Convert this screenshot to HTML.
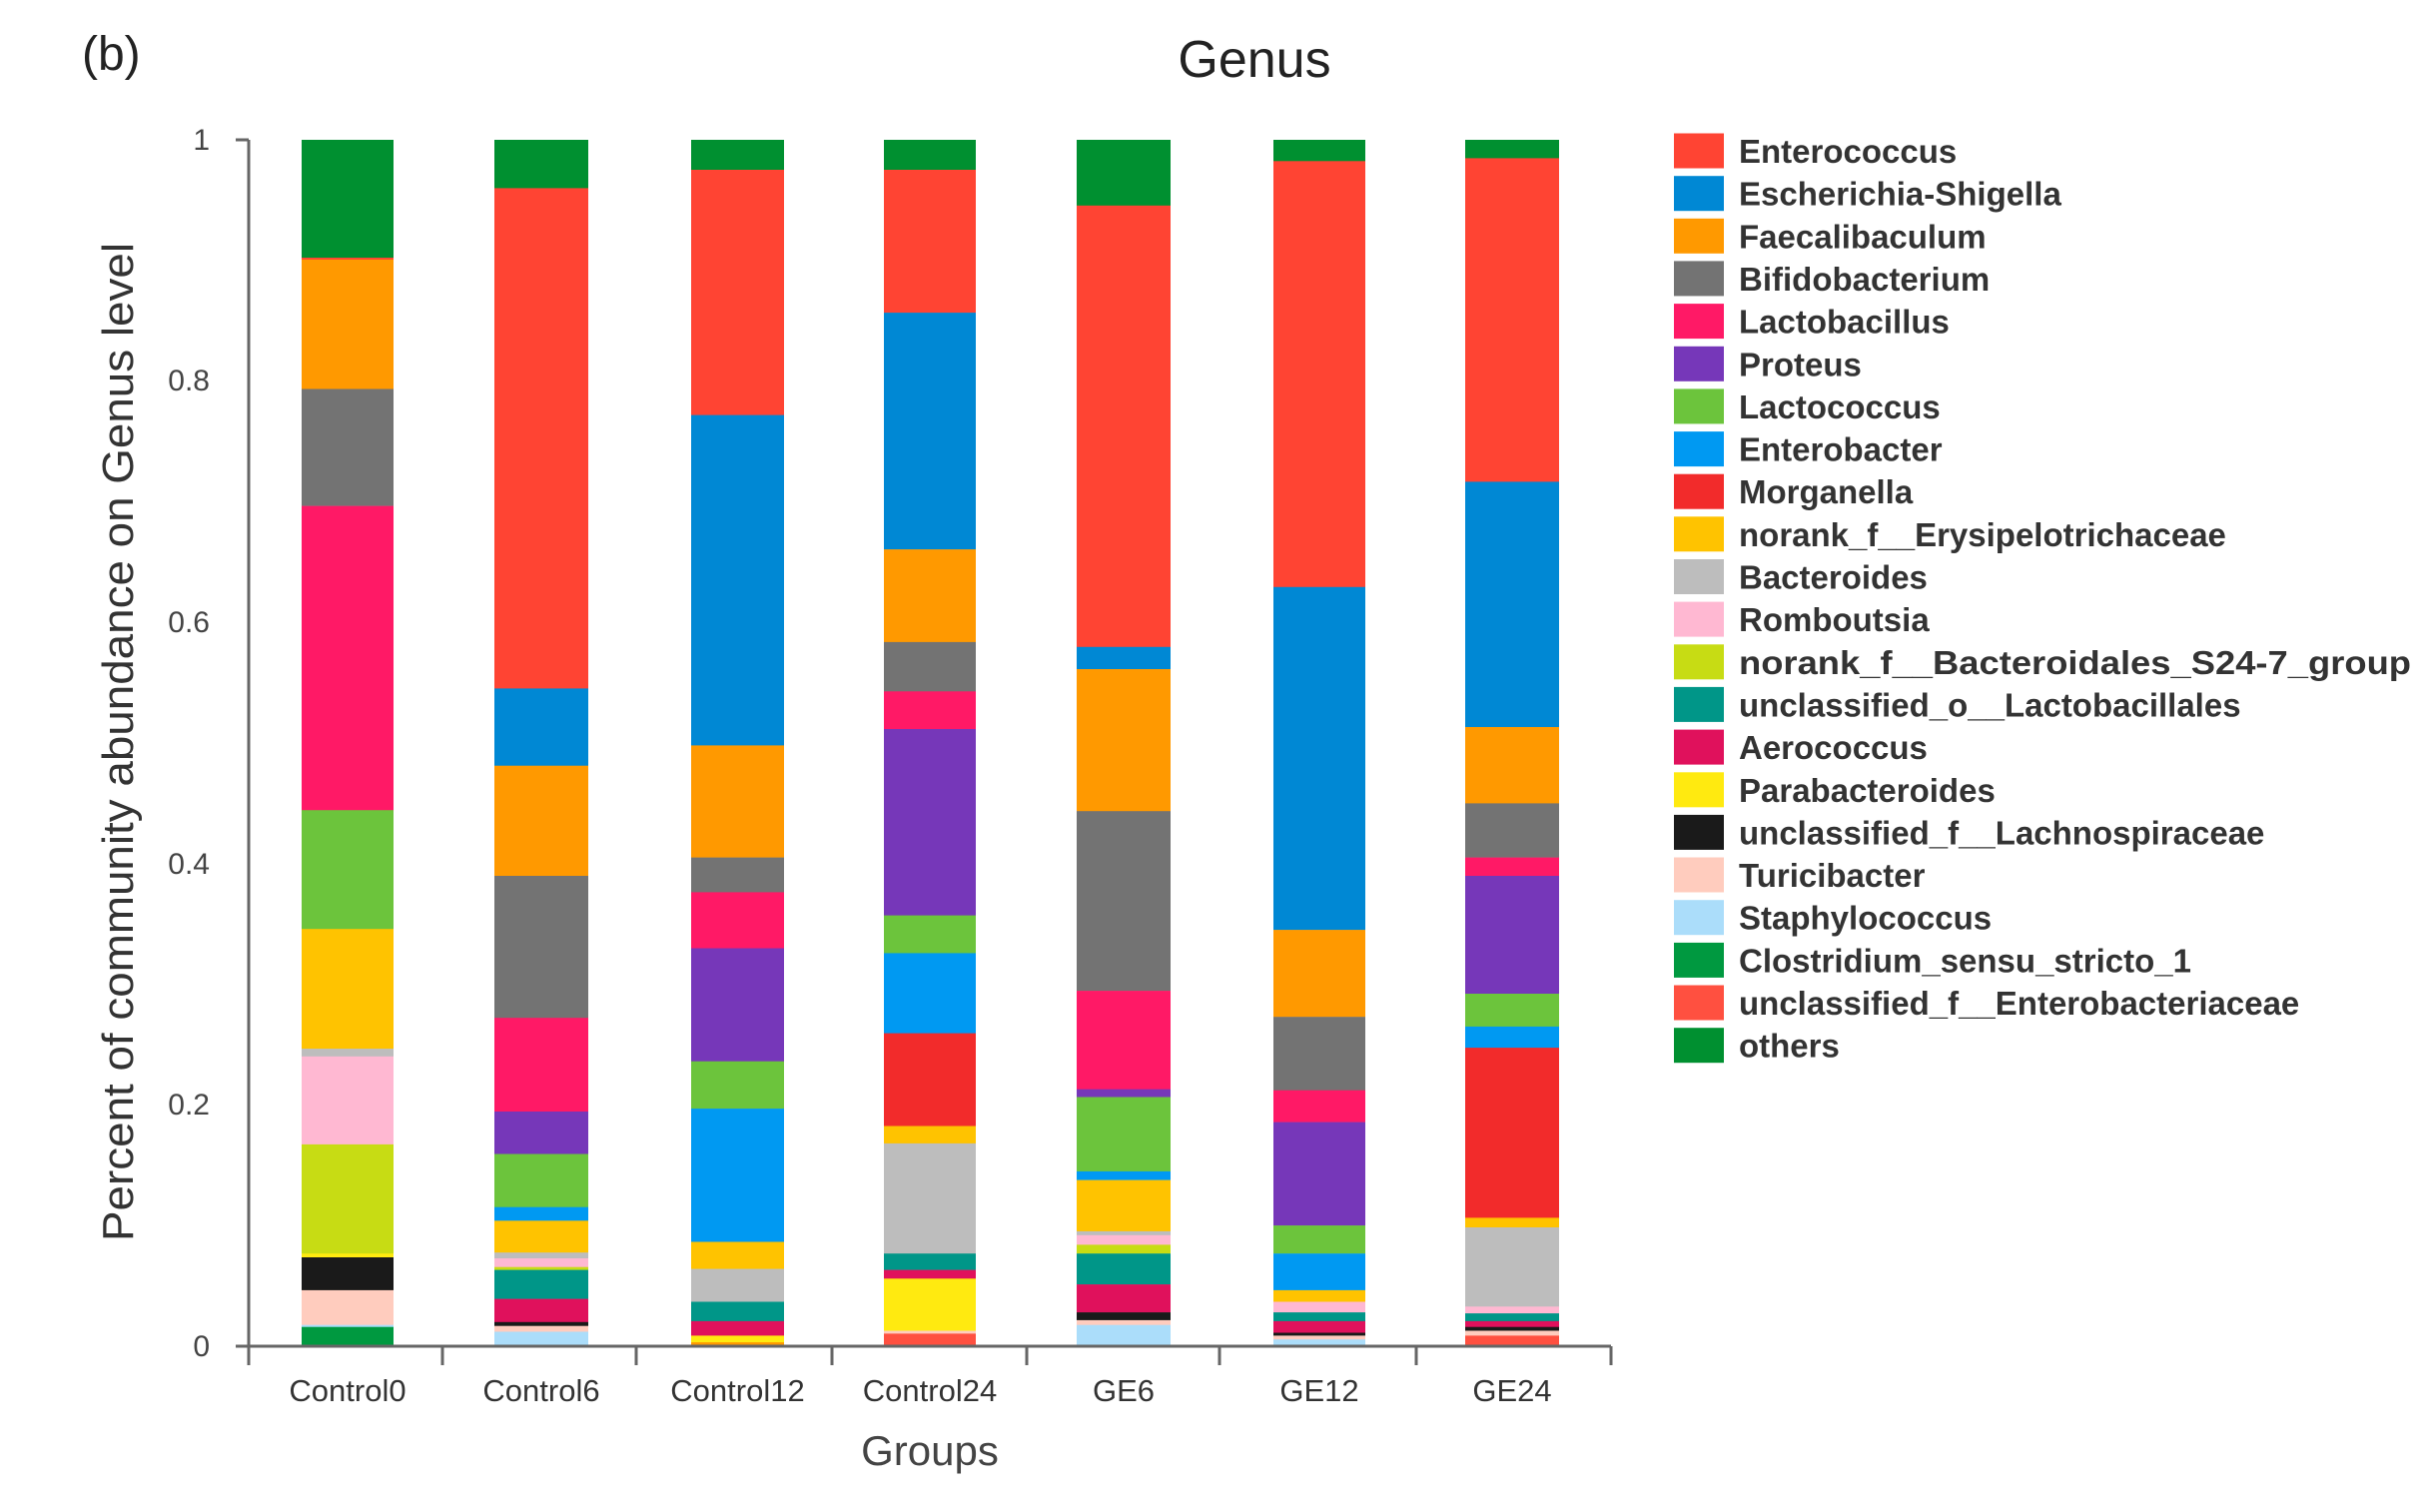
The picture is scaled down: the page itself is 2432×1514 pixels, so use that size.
<!DOCTYPE html>
<html><head><meta charset="utf-8"><style>
html,body{margin:0;padding:0;background:#fff;}
svg{display:block;}
text{font-family:"Liberation Sans",Arial,sans-serif;}
</style></head><body>
<svg id="s" width="2432" height="1514" xmlns="http://www.w3.org/2000/svg">
<rect width="2432" height="1514" fill="#fff"/>
<text x="82" y="70" font-size="48" fill="#222">(b)</text>
<text x="1256" y="77" font-size="52" fill="#222" text-anchor="middle">Genus</text>
<g id="bars"></g>
<g stroke="#666" stroke-width="3" fill="none">
<line x1="249" y1="140" x2="249" y2="1349"/>
<line x1="236" y1="140" x2="249" y2="140"/>
<line x1="236" y1="1348" x2="1613" y2="1348"/>
</g>
<g id="ticks" stroke="#666" stroke-width="3"></g>
<g font-size="30" fill="#444" text-anchor="end">
<text x="210" y="150">1</text>
<text x="210" y="391">0.8</text>
<text x="210" y="633">0.6</text>
<text x="210" y="875">0.4</text>
<text x="210" y="1116">0.2</text>
<text x="210" y="1358">0</text>
</g>
<g id="xl" font-size="31" fill="#333" text-anchor="middle"></g>
<text x="931" y="1467" font-size="42" fill="#444" text-anchor="middle">Groups</text>
<text transform="translate(133,743) rotate(-90)" font-size="44" fill="#333" text-anchor="middle" textLength="1000" lengthAdjust="spacingAndGlyphs">Percent of community abundance on Genus level</text>
<g id="leg" font-size="33" font-weight="bold" fill="#333"></g>
</svg>
<script>
var C={oth:"#009030",ent:"#FF4433",esc:"#0088D4",fae:"#FF9900",bif:"#737373",lac:"#FF1966",pro:"#7637B9",lcc:"#6CC43C",enb:"#0099F2",mor:"#F22B2B",ery:"#FFC300",bac:"#BDBDBD",rom:"#FFB8D2",s24:"#C7DC14",ulo:"#009688",aer:"#E0115C",par:"#FFEA10",lch:"#1A1A1A",tur:"#FFCCBE",sta:"#ABDDFA",clo:"#009940",uen:"#FF5040"};
var bars=[
[302,394,[["oth",146,268],["ent",268,270],["fae",270,404],["bif",404,525],["lac",525,840],["lcc",840,963],["ery",963,1087],["bac",1087,1095],["rom",1095,1186],["s24",1186,1299],["par",1299,1303],["lch",1303,1337],["tur",1337,1373],["sta",1373,1375],["clo",1375,1395]]],
[495,589,[["oth",146,196],["ent",196,714],["esc",714,794],["fae",794,908],["bif",908,1055],["lac",1055,1152],["pro",1152,1196],["lcc",1196,1251],["enb",1251,1265],["ery",1265,1298],["bac",1298,1304],["rom",1304,1313],["s24",1313,1316],["ulo",1316,1346],["aer",1346,1370],["lch",1370,1374],["tur",1374,1380],["sta",1380,1395]]],
[692,785,[["oth",146,177],["ent",177,431],["esc",431,773],["fae",773,889],["bif",889,925],["lac",925,983],["pro",983,1100],["lcc",1100,1149],["enb",1149,1287],["ery",1287,1315],["bac",1315,1349],["ulo",1349,1369],["aer",1369,1384],["par",1384,1391],["fae",1391,1395]]],
[885,977,[["oth",146,177],["ent",177,325],["esc",325,570],["fae",570,666],["bif",666,717],["lac",717,756],["pro",756,949],["lcc",949,988],["enb",988,1071],["mor",1071,1167],["ery",1167,1185],["bac",1185,1299],["ulo",1299,1316],["aer",1316,1325],["par",1325,1379],["tur",1379,1382],["uen",1382,1395]]],
[1078,1172,[["oth",146,214],["ent",214,671],["esc",671,694],["fae",694,841],["bif",841,1027],["lac",1027,1129],["pro",1129,1137],["lcc",1137,1214],["enb",1214,1223],["ery",1223,1276],["bac",1276,1280],["rom",1280,1290],["s24",1290,1299],["ulo",1299,1331],["aer",1331,1360],["lch",1360,1368],["tur",1368,1373],["sta",1373,1395]]],
[1275,1367,[["oth",146,168],["ent",168,609],["esc",609,964],["fae",964,1054],["bif",1054,1130],["lac",1130,1163],["pro",1163,1270],["lcc",1270,1299],["enb",1299,1337],["ery",1337,1349],["rom",1349,1360],["ulo",1360,1369],["aer",1369,1381],["lch",1381,1384],["tur",1384,1388],["sta",1388,1395]]],
[1467,1561,[["oth",146,165],["ent",165,500],["esc",500,754],["fae",754,833],["bif",833,889],["lac",889,908],["pro",908,1030],["lcc",1030,1064],["enb",1064,1086],["mor",1086,1262],["ery",1262,1272],["bac",1272,1354],["rom",1354,1361],["ulo",1361,1369],["aer",1369,1375],["lch",1375,1379],["tur",1379,1384],["uen",1384,1395]]]
];
function Y(y){return 140+(y-146)*1208/1249;}
var g=document.getElementById("bars"),h="";
bars.forEach(function(b){b[2].forEach(function(s){var t=Y(s[1]),bt=Y(s[2]);h+='<rect x="'+b[0]+'" y="'+t.toFixed(1)+'" width="'+(b[1]-b[0])+'" height="'+(bt-t+0.3).toFixed(1)+'" fill="'+C[s[0]]+'"/>';});});
g.innerHTML=h;
var tk=[249,443,637,833,1028,1221,1418,1613],th="";
tk.forEach(function(x){th+='<line x1="'+x+'" y1="1348" x2="'+x+'" y2="1367"/>';});
document.getElementById("ticks").innerHTML=th;
var names=["Control0","Control6","Control12","Control24","GE6","GE12","GE24"],xh="";
names.forEach(function(n,i){xh+='<text x="'+((bars[i][0]+bars[i][1])/2)+'" y="1403">'+n+'</text>';});
document.getElementById("xl").innerHTML=xh;
var L=[["ent","Enterococcus"],["esc","Escherichia-Shigella"],["fae","Faecalibaculum"],["bif","Bifidobacterium"],["lac","Lactobacillus"],["pro","Proteus"],["lcc","Lactococcus"],["enb","Enterobacter"],["mor","Morganella"],["ery","norank_f__Erysipelotrichaceae"],["bac","Bacteroides"],["rom","Romboutsia"],["s24","norank_f__Bacteroidales_S24-7_group"],["ulo","unclassified_o__Lactobacillales"],["aer","Aerococcus"],["par","Parabacteroides"],["lch","unclassified_f__Lachnospiraceae"],["tur","Turicibacter"],["sta","Staphylococcus"],["clo","Clostridium_sensu_stricto_1"],["uen","unclassified_f__Enterobacteriaceae"],["oth","others"]],lh="";
L.forEach(function(l,i){var cy=151+i*42.65;lh+='<rect x="1676" y="'+(cy-17.5).toFixed(1)+'" width="50" height="35" fill="'+C[l[0]]+'"/><text x="1741" y="'+(cy+12).toFixed(1)+'"'+(i==12?' textLength="673" lengthAdjust="spacingAndGlyphs"':'')+'>'+l[1]+'</text>';});
document.getElementById("leg").innerHTML=lh;
</script>
</body></html>
